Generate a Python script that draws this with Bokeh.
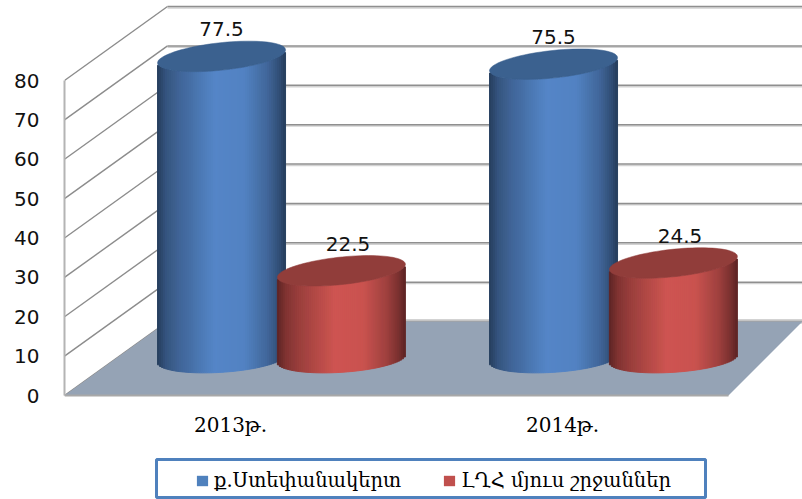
import numpy as np
from bokeh.plotting import figure
from bokeh.models import Range1d, LinearAxis, FixedTicker, Legend, LegendItem
from bokeh.core.properties import value
from bokeh.embed import file_html
from bokeh.resources import INLINE

categories = ["2013թ.", "2014թ."]
series_names = ["ք.Ստեփանակերտ", "ԼՂՀ մյուս շրջաններ"]
stepanakert = [77.5, 75.5]
other_regions = [22.5, 24.5]
y_ticks = [0, 10, 20, 30, 40, 50, 60, 70, 80]

W, H = 802, 499
FL, FB = 64, 104
FW = W - FL
X_UNIT = 332.0
Y_UNIT = 3.9375

p = figure(width=W, height=H, frame_width=FW, frame_height=H,
           x_range=Range1d(0, FW / X_UNIT), y_range=Range1d(-FB / Y_UNIT, (H - FB) / Y_UNIT),
           output_backend="svg", toolbar_location=None, x_axis_type=None, y_axis_type=None,
           min_border_left=FL, min_border_right=0, min_border_top=0, min_border_bottom=0)
p.outline_line_color = None
p.grid.visible = False
p.background_fill_color = "white"

DX_L = 103 / X_UNIT
DX_R = 74 / X_UNIT
DY = 74 / Y_UNIT
FLOOR_W = 2.0

# walls
t = np.array(y_ticks, dtype=float)
p.segment(x0=[0] * len(t), y0=t, x1=[DX_L] * len(t), y1=t + DY, line_color="#8c8c8c", line_width=1.4)
back_x1 = [FW / X_UNIT] * len(t)
p.segment(x0=[DX_L] * len(t), y0=t + DY - 0.35, x1=back_x1, y1=t + DY - 0.35, line_color="#d2d2d2", line_width=1.5)
p.segment(x0=[DX_L] * len(t), y0=t + DY, x1=back_x1, y1=t + DY, line_color="#8f8f8f", line_width=1.5)

# floor
p.patch(x=[0, DX_L, FLOOR_W + DX_R, FLOOR_W], y=[0, DY, DY, 0], fill_color="#95A3B5", line_color=None)
p.segment(x0=[DX_L], y0=[DY + 0.3], x1=[FLOOR_W + DX_R], y1=[DY + 0.3], line_color="#c4c4c4", line_width=2)
p.segment(x0=[0], y0=[0], x1=[FLOOR_W], y1=[0], line_color="#a8a8a8", line_width=2)

# cylinders
HALF = 64 / X_UNIT
B = 13.8 / Y_UNIT
S_TOP = 6.5 / Y_UNIT
S_BASE = 4.0 / Y_UNIT
BASE = 37 / Y_UNIT
K = 0.99
N = 64
shade_u = [-1.0, -0.86, -0.65, -0.1, 0.35, 0.72, 0.92, 1.0]
shade_f = [0.00, 0.32, 0.55, 1.00, 0.96, 0.58, 0.22, 0.00]


def mix(c0, c1, f):
    a = np.array(c0)
    b = np.array(c1)
    r = a + (b - a) * f
    return "#%02x%02x%02x" % tuple(int(round(v)) for v in r)


def cylinder(cx, v, dark, light, cap):
    edges = np.linspace(-1, 1, N + 1)
    left, right = edges[:-1], edges[1:]
    u = (left + right) / 2
    curve = B * np.sqrt(1 - u ** 2)
    top = BASE + v * K - curve + S_TOP * u
    bottom = BASE - curve + S_BASE * u
    colors = [mix(dark, light, np.interp(x, shade_u, shade_f)) for x in u]
    p.quad(left=cx + left * HALF, right=cx + right * HALF, top=top, bottom=bottom,
           fill_color=colors, line_color=colors, line_width=1)
    a = np.linspace(0, 2 * np.pi, 90)
    p.patch(x=cx + HALF * np.cos(a), y=BASE + v * K + B * np.sin(a) + S_TOP * np.cos(a),
            fill_color=cap, line_color=cap, line_width=0.5)


BLUE = ((38, 61, 92), (85, 134, 200), "#3B618F")
RED = ((92, 36, 36), (206, 85, 81), "#913D3A")
BLUE_OFF = -0.027
RED_OFF = 0.334

for i, v in enumerate(stepanakert):
    cylinder(i + 0.5 + BLUE_OFF, v, *BLUE)
for i, v in enumerate(other_regions):
    cylinder(i + 0.5 + RED_OFF, v, *RED)

# data labels
lab_x = [i + 0.5 + BLUE_OFF for i in range(2)] + [i + 0.5 + RED_OFF + 0.02 for i in range(2)]
lab_y = [BASE + v * K for v in stepanakert + other_regions]
lab_t = [str(v) for v in stepanakert + other_regions]
p.text(x=lab_x, y=lab_y, text=lab_t, y_offset=-27, text_align="center", text_baseline="middle",
       text_font=value("DejaVu Sans"), text_font_size="20px", text_color="#111111")

# category labels
p.text(x=[i + 0.5 for i in range(len(categories))], y=[0, 0], text=categories, y_offset=29,
       text_align="center", text_baseline="middle",
       text_font=value("DejaVu Serif"), text_font_size="20px", text_color="#000000")

# value axis
yax = LinearAxis(ticker=FixedTicker(ticks=y_ticks), bounds=(0, 80))
yax.axis_line_color = "#b4b4b4"
yax.axis_line_width = 2
yax.major_tick_line_color = None
yax.minor_tick_line_color = None
yax.major_label_standoff = 19
yax.major_label_text_font = "DejaVu Sans"
yax.major_label_text_font_size = "20px"
yax.major_label_text_color = "#111111"
p.add_layout(yax, "left")

# legend frame
p.quad(left=[(156 - FL) / X_UNIT], right=[(705 - FL) / X_UNIT],
       top=[(395 - 459) / Y_UNIT], bottom=[(395 - 497) / Y_UNIT],
       fill_color="white", line_color="#4F81BD", line_width=3)

# legend
r0 = p.quad(left=[0], right=[0], top=[0], bottom=[0], fill_color="#4F81BD", line_color=None)
r1 = p.quad(left=[0], right=[0], top=[0], bottom=[0], fill_color="#C0504D", line_color=None)
legend = Legend(items=[LegendItem(label=series_names[0], renderers=[r0]),
                       LegendItem(label=series_names[1], renderers=[r1])],
                orientation="horizontal", location=(131, 7),
                border_line_color=None, background_fill_alpha=0,
                glyph_width=14, glyph_height=13, label_standoff=5, spacing=41,
                padding=0, margin=0,
                label_text_font="DejaVu Serif", label_text_font_size="19.5px",
                label_text_color="#000000")
p.add_layout(legend, "center")

open("out.html", "w").write(file_html(p, INLINE))
